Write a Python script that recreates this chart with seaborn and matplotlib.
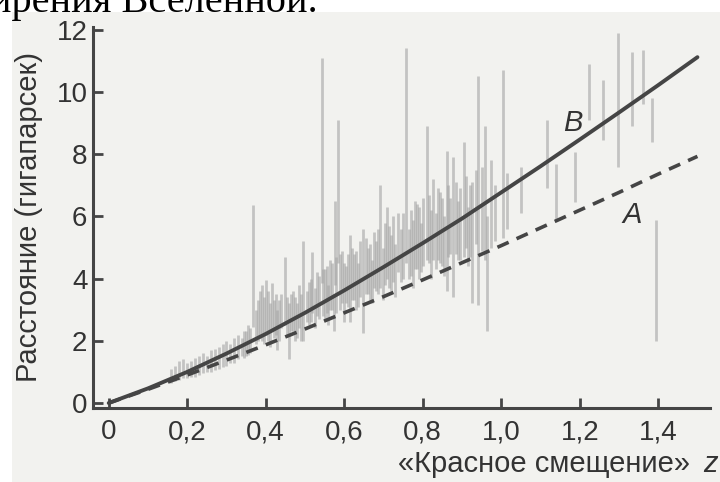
import matplotlib
matplotlib.use("Agg")
import matplotlib.pyplot as plt
import seaborn as sns
import pandas as pd
from matplotlib.patches import Rectangle

# ---- data ----
z_curve = [0.0, 0.1, 0.2, 0.3, 0.4, 0.5, 0.6, 0.7, 0.8, 0.9, 1.0, 1.1, 1.2, 1.3, 1.4, 1.5]
curve_B = [0.0, 0.47, 1.00, 1.59, 2.22, 2.90, 3.62, 4.37, 5.14, 5.93, 6.77, 7.61, 8.47, 9.34, 10.22, 11.12]
curve_A = [0.0, 0.44, 0.90, 1.38, 1.87, 2.38, 2.90, 3.42, 3.96, 4.51, 5.06, 5.63, 6.20, 6.77, 7.36, 7.93]

sn_z = [0.16, 0.18, 0.20, 0.22, 0.24, 0.25, 0.26, 0.28, 0.30, 0.31, 0.32, 0.33, 0.34, 0.35, 0.36,
        0.368, 0.375, 0.38, 0.39, 0.40, 0.41, 0.416, 0.42, 0.43, 0.44, 0.45, 0.46, 0.47, 0.48, 0.49,
        0.496, 0.505, 0.518, 0.525, 0.53, 0.543, 0.55, 0.56, 0.565, 0.573, 0.577, 0.585, 0.59, 0.60,
        0.605, 0.615, 0.625, 0.635, 0.648, 0.66, 0.67, 0.68, 0.692, 0.70, 0.71, 0.72, 0.73, 0.737,
        0.745, 0.757, 0.765, 0.775, 0.785, 0.795, 0.81, 0.82, 0.827, 0.835, 0.845, 0.855, 0.862,
        0.87, 0.878, 0.89, 0.904, 0.915, 0.926, 0.94, 0.958, 0.965, 0.975, 0.985, 1.005, 1.015,
        1.05, 1.117, 1.14, 1.187, 1.224, 1.26, 1.298, 1.334, 1.362, 1.384, 1.395,
        0.17, 0.19, 0.21, 0.23, 0.27, 0.29, 0.345, 0.355, 0.385, 0.395, 0.405, 0.425, 0.435,
        0.455, 0.465, 0.475, 0.485, 0.51, 0.515, 0.535, 0.545, 0.555, 0.57, 0.58, 0.595, 0.61,
        0.62, 0.63, 0.64, 0.655, 0.665, 0.675, 0.685, 0.705, 0.715, 0.725, 0.75, 0.77, 0.78,
        0.79, 0.80, 0.815, 0.84, 0.85, 0.865, 0.885, 0.895, 0.91, 0.92, 0.935, 0.95]
sn_lo = [0.65, 0.75, 0.80, 0.85, 0.95, 1.00, 1.00, 1.10, 1.20, 1.30, 1.30, 1.40, 1.50, 1.50, 1.60,
         2.45, 1.90, 2.00, 2.00, 2.20, 1.80, 2.30, 2.10, 1.70, 2.40, 2.50, 1.40, 2.30, 2.10, 2.00,
         2.00, 2.60, 2.90, 2.40, 2.80, 3.85, 2.70, 2.50, 3.00, 2.30, 3.80, 4.50, 3.00, 2.60,
         3.20, 2.60, 3.30, 3.10, 2.25, 3.50, 3.20, 3.60, 3.70, 3.30, 4.00, 3.60, 3.40, 4.20,
         3.90, 4.50, 4.00, 3.70, 4.30, 4.20, 4.60, 4.00, 4.60, 4.30, 4.50, 4.10, 3.60,
         4.80, 3.40, 4.60, 4.70, 4.40, 3.20, 3.15, 4.60, 2.30, 5.00, 5.20, 5.30, 5.60,
         6.10, 6.90, 5.90, 6.46, 9.10, 8.46, 7.60, 8.90, 9.60, 8.40, 2.00,
         0.70, 0.80, 0.85, 0.90, 1.05, 1.15, 1.45, 1.55, 2.10, 1.90, 2.00, 2.20, 2.00,
         2.20, 2.30, 2.00, 2.40, 2.50, 2.60, 2.70, 2.80, 2.90, 3.00, 2.90, 3.20, 3.10,
         3.30, 3.00, 3.40, 3.50, 3.30, 3.70, 3.50, 3.80, 3.70, 3.90, 4.00, 4.10, 4.30,
         4.00, 4.40, 4.50, 4.60, 4.40, 4.70, 4.80, 4.60, 5.00, 4.70, 5.10, 4.90]
sn_hi = [1.10, 1.35, 1.30, 1.45, 1.60, 1.50, 1.70, 1.80, 2.00, 1.90, 2.10, 2.20, 2.10, 2.30, 2.40,
         6.37, 3.00, 3.30, 3.80, 3.95, 3.20, 3.85, 3.30, 3.00, 3.50, 4.70, 3.20, 3.60, 3.20, 3.50,
         5.20, 3.60, 4.85, 3.70, 4.20, 11.10, 4.30, 3.80, 4.60, 3.50, 6.50, 9.10, 4.80, 4.50,
         4.40, 5.40, 4.80, 4.50, 5.60, 5.00, 4.60, 5.20, 7.00, 5.00, 6.30, 5.40, 5.10, 6.10,
         5.60, 11.40, 5.60, 5.90, 6.40, 5.80, 8.90, 6.20, 7.20, 6.10, 6.80, 6.00, 8.10,
         6.60, 7.90, 6.50, 8.40, 6.30, 7.10, 10.50, 8.90, 6.00, 7.80, 7.00, 10.70, 7.40,
         7.60, 9.10, 7.70, 8.07, 10.90, 10.40, 11.90, 11.30, 11.35, 9.80, 5.90,
         1.20, 1.40, 1.35, 1.50, 1.75, 1.90, 2.30, 2.50, 3.60, 3.40, 3.60, 3.50, 3.30,
         3.40, 3.50, 3.40, 3.80, 3.90, 4.00, 4.10, 4.30, 4.40, 4.50, 4.70, 4.90, 4.80,
         5.00, 4.90, 5.20, 5.30, 5.10, 5.50, 5.60, 5.80, 5.70, 6.00, 6.10, 6.20, 6.50,
         6.30, 6.60, 6.70, 6.90, 6.60, 7.00, 7.10, 6.90, 7.30, 7.00, 7.50, 7.60]

x_ticks = [0.0, 0.2, 0.4, 0.6, 0.8, 1.0, 1.2, 1.4]
x_tick_labels = ["0", "0,2", "0,4", "0,6", "0,8", "1,0", "1,2", "1,4"]
y_ticks = [0, 2, 4, 6, 8, 10, 12]

sns.set_style("ticks")
plt.rcParams["font.family"] = ["Liberation Sans", "DejaVu Sans"]

W, H = 720, 482
fig = plt.figure(figsize=(7.2, 4.82), dpi=100)
fig.patch.set_facecolor("white")
fig.patches.append(Rectangle((12 / W, 0), 1, (H - 12) / H, transform=fig.transFigure,
                             facecolor="#f2f2ef", edgecolor="none", zorder=-10))

ax = fig.add_axes([93 / W, 74 / H, (710 - 93) / W, (455 - 74) / H])
ax.set_facecolor("none")

ink = "#454545"
txt = "#333333"

# supernova error bars
ax.vlines(sn_z, sn_lo, sn_hi, colors="#a5a5a5", linewidth=2.0, alpha=0.6, zorder=1)

df = pd.DataFrame({"z": z_curve, "B": curve_B, "A": curve_A})
sns.lineplot(data=df, x="z", y="B", ax=ax, color=ink, linewidth=2.8, zorder=3)
sns.lineplot(data=df, x="z", y="A", ax=ax, color=ink, linewidth=2.6,
             linestyle=(0, (3.4, 2.4)), zorder=3)

ax.text(1.183, 9.0, "B", fontsize=21, style="italic", color=txt, ha="center", va="center")
ax.text(1.334, 6.05, "A", fontsize=21, style="italic", color=txt, ha="center", va="center")

ax.set_xlim(-0.04, 1.532)
ax.set_ylim(-0.16, 12.09)
ax.set_xticks(x_ticks)
ax.set_xticklabels(x_tick_labels)
ax.set_yticks(y_ticks)
ax.set_xlabel("")
ax.set_ylabel("Расстояние (гигапарсек)", fontsize=21, color=txt, labelpad=10)

for s in ["top", "right"]:
    ax.spines[s].set_visible(False)
for s in ["left", "bottom"]:
    ax.spines[s].set_color(ink)
    ax.spines[s].set_linewidth(2.2)
ax.tick_params(axis="both", direction="in", length=7, width=2, color=ink,
               labelsize=20, labelcolor=txt)
ax.tick_params(axis="x", pad=8)
ax.tick_params(axis="y", pad=4)

fig.text(690 / W, 10 / H, "«Красное смещение»", fontsize=21, color=txt, ha="right", va="baseline")
fig.text(703 / W, 10 / H, "z", fontsize=21, color=txt, style="italic", ha="left", va="baseline")

fig.text(318 / W, 1 - 12 / H, "ширения Вселенной.", fontsize=29, color="black",
         family=["Liberation Serif", "DejaVu Serif"], ha="right", va="baseline")

fig.savefig("out.png", dpi=100, facecolor=fig.get_facecolor())
